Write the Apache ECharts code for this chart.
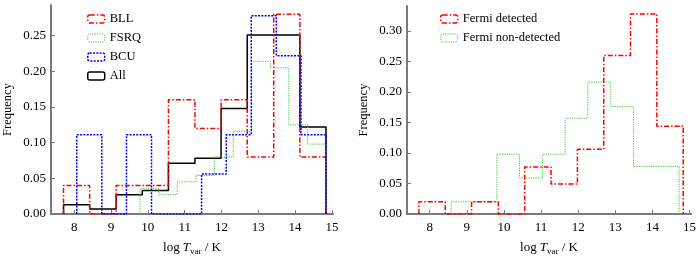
<!DOCTYPE html>
<html>
<head>
<meta charset="utf-8">
<script src="https://cdn.jsdelivr.net/npm/echarts@6/dist/echarts.min.js"></script>
<style>
  html, body { margin: 0; padding: 0; background: #fff; }
  #chart { width: 700px; height: 262px; }
</style>
</head>
<body>
<div id="chart"></div>
<script>
  // 左图：各类源的分箱边界与频率
  var edgesBLL = [7.71, 8.42, 9.14, 9.85, 10.56, 11.28, 11.99, 12.70, 13.42, 14.13, 14.84];
  var freqBLL = [0.04, 0, 0.04, 0.04, 0.16, 0.12, 0.16, 0.08, 0.28, 0.08];
  var edgesFSRQ = [9.79, 10.30, 10.80, 11.31, 11.81, 12.32, 12.82, 13.33, 13.83, 14.34, 14.84];
  var freqFSRQ = [0.036, 0.027, 0.045, 0.054, 0.080, 0.116, 0.214, 0.205, 0.125, 0.098];
  var edgesBCU = [8.07, 8.75, 9.42, 10.10, 10.78, 11.46, 12.13, 12.81, 13.49, 14.16, 14.84];
  var freqBCU = [0.111, 0, 0.111, 0, 0, 0.056, 0.111, 0.278, 0.222, 0.111];
  var edgesAll = [7.71, 8.42, 9.14, 9.85, 10.56, 11.28, 11.99, 12.70, 13.42, 14.13, 14.84];
  var freqAll = [0.013, 0.007, 0.027, 0.033, 0.071, 0.078, 0.148, 0.251, 0.251, 0.122];
  // 右图：Fermi 探测 / 未探测
  var edgesDet = [7.71, 8.42, 9.13, 9.85, 10.56, 11.27, 11.98, 12.69, 13.41, 14.12, 14.83];
  var freqDet = [0.02, 0, 0.02, 0, 0.077, 0.049, 0.106, 0.26, 0.328, 0.144];
  var edgesNon = [8.58, 9.19, 9.81, 10.42, 11.04, 11.65, 12.26, 12.88, 13.49, 14.11, 14.72];
  var freqNon = [0.02, 0.02, 0.098, 0.059, 0.098, 0.157, 0.216, 0.176, 0.078, 0.078];
  // 刻度
  var xTicks = [8, 9, 10, 11, 12, 13, 14, 15];
  var yTicksLeft = [0, 0.05, 0.10, 0.15, 0.20, 0.25];
  var yTicksRight = [0, 0.05, 0.10, 0.15, 0.20, 0.25, 0.30];

  var serif = "'Liberation Serif', 'Times New Roman', serif";
  var axisGray = '#7a7a7a';

  // 把直方图转成阶梯轮廓线的点
  function outline(edges, freq) {
    var pts = [[edges[0], 0]];
    for (var i = 0; i < freq.length; i++) {
      pts.push([edges[i], freq[i]]);
      pts.push([edges[i + 1], freq[i]]);
    }
    pts.push([edges[edges.length - 1], 0]);
    return pts;
  }

  var styles = {
    'BLL': { color: '#ff0000', width: 1.5, type: [5, 2, 1.5, 2] },
    'FSRQ': { color: '#3cc83c', width: 1, type: [1.2, 1.2] },
    'BCU': { color: '#0000ff', width: 1.5, type: [2, 1.3] },
    'All': { color: '#000000', width: 1.5, type: 'solid' },
    'Fermi detected': { color: '#ff0000', width: 1.5, type: [5, 2, 1.5, 2] },
    'Fermi non-detected': { color: '#3cc83c', width: 1, type: [1.2, 1.2] }
  };

  function makeSeries(name, edges, freq, idx) {
    return {
      name: name,
      type: 'line',
      xAxisIndex: idx,
      yAxisIndex: idx,
      data: outline(edges, freq),
      symbol: 'none',
      lineStyle: {
        color: styles[name].color,
        width: styles[name].width,
        type: styles[name].type
      },
      itemStyle: { color: styles[name].color },
      animation: false
    };
  }

  function legendItem(name) {
    return {
      name: name,
      itemStyle: {
        color: 'rgba(0,0,0,0)',
        borderColor: styles[name].color,
        borderWidth: styles[name].width,
        borderType: styles[name].type
      }
    };
  }

  function xAxisCfg(idx, min, max) {
    return {
      type: 'value',
      gridIndex: idx,
      min: min,
      max: max,
      name: '{a|log}{b|T}{c|var}{a| / K}',
      nameLocation: 'middle',
      nameGap: 27,
      nameTextStyle: {
        rich: {
          a: { fontFamily: serif, fontSize: 13, color: '#000', lineHeight: 15, verticalAlign: 'top' },
          b: { fontFamily: serif, fontSize: 13, color: '#000', fontStyle: 'italic', lineHeight: 15, verticalAlign: 'top', padding: [0, 0, 0, 3] },
          c: { fontFamily: serif, fontSize: 9, color: '#000', lineHeight: 9, verticalAlign: 'top', padding: [6, 0, 0, 0] }
        }
      },
      axisLine: { show: true, onZero: false, lineStyle: { color: axisGray, width: 2 } },
      axisTick: { show: true, inside: true, length: 4, customValues: xTicks, lineStyle: { color: axisGray, width: 1 } },
      axisLabel: { customValues: xTicks, margin: 7, fontFamily: serif, fontSize: 13, color: '#000' },
      splitLine: { show: false }
    };
  }

  function yAxisCfg(idx, max, ticks) {
    return {
      type: 'value',
      gridIndex: idx,
      min: 0,
      max: max,
      name: 'Frequency',
      nameLocation: 'middle',
      nameGap: 37,
      nameTextStyle: { fontFamily: serif, fontSize: 12.5, color: '#000' },
      axisLine: { show: true, lineStyle: { color: axisGray, width: 2 } },
      axisTick: { show: true, inside: true, length: 4, customValues: ticks, lineStyle: { color: axisGray, width: 1 } },
      axisLabel: {
        customValues: ticks,
        margin: 5,
        fontFamily: serif,
        fontSize: 13,
        color: '#000',
        formatter: function (v) { return v.toFixed(2); }
      },
      splitLine: { show: false }
    };
  }

  var myChart = echarts.init(document.getElementById('chart'), null, { renderer: 'canvas' });

  myChart.setOption({
    backgroundColor: '#fff',
    animation: false,
    grid: [
      { left: 50, top: 5, width: 283, height: 209 },
      { left: 407, top: 6, width: 284, height: 208 }
    ],
    legend: [
      {
        orient: 'vertical',
        left: 82,
        top: 7,
        icon: 'roundRect',
        itemWidth: 17,
        itemHeight: 8,
        itemGap: 5,
        textStyle: { fontFamily: serif, fontSize: 12.5, color: '#000', lineHeight: 14 },
        data: ['BLL', 'FSRQ', 'BCU', 'All'].map(legendItem)
      },
      {
        orient: 'vertical',
        left: 435,
        top: 7,
        icon: 'roundRect',
        itemWidth: 17,
        itemHeight: 8,
        itemGap: 5,
        textStyle: { fontFamily: serif, fontSize: 12.5, color: '#000', lineHeight: 14 },
        data: ['Fermi detected', 'Fermi non-detected'].map(legendItem)
      }
    ],
    xAxis: [xAxisCfg(0, 7.37, 15.03), xAxisCfg(1, 7.39, 15.04)],
    yAxis: [yAxisCfg(0, 0.293, yTicksLeft), yAxisCfg(1, 0.341, yTicksRight)],
    series: [
      makeSeries('All', edgesAll, freqAll, 0),
      makeSeries('BLL', edgesBLL, freqBLL, 0),
      makeSeries('FSRQ', edgesFSRQ, freqFSRQ, 0),
      makeSeries('BCU', edgesBCU, freqBCU, 0),
      makeSeries('Fermi non-detected', edgesNon, freqNon, 1),
      makeSeries('Fermi detected', edgesDet, freqDet, 1)
    ]
  });

  window.addEventListener('resize', function () {
    myChart && myChart.resize();
  });
</script>
</body>
</html>
